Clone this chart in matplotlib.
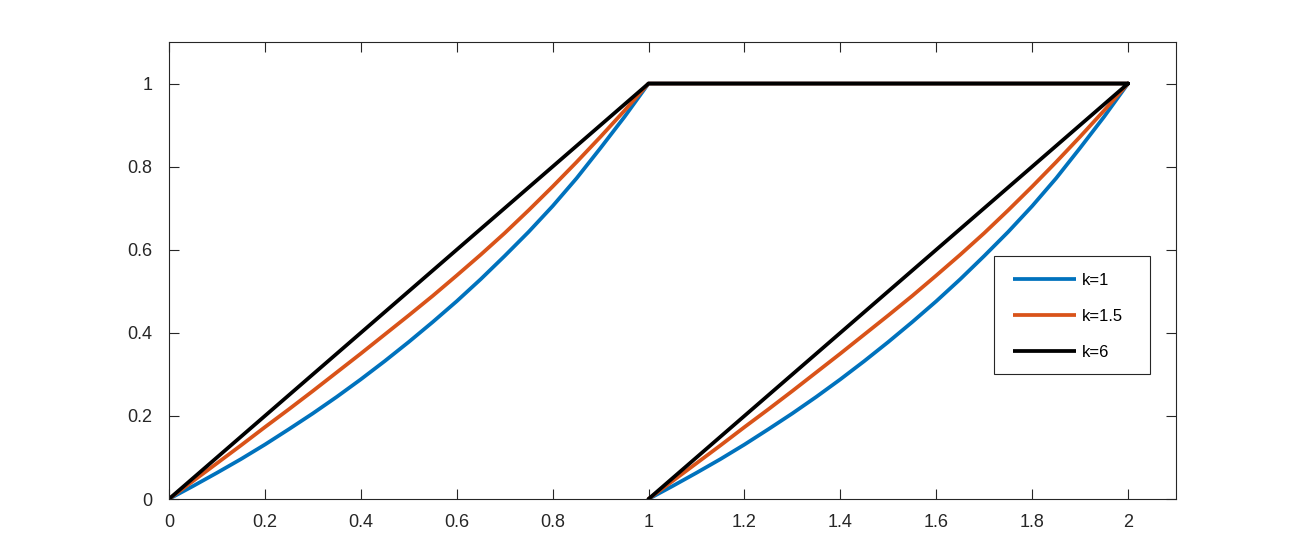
import numpy as np
import matplotlib
matplotlib.use("Agg")
import matplotlib.pyplot as plt
from matplotlib.patches import Rectangle
from matplotlib.ticker import FuncFormatter

# values (step 0.05)
x_rise = [0, 0.05, 0.1, 0.15, 0.2, 0.25, 0.3, 0.35, 0.4, 0.45, 0.5,
          0.55, 0.6, 0.65, 0.7, 0.75, 0.8, 0.85, 0.9, 0.95, 1.0]
y_k1 = [0, 0.031, 0.063, 0.096, 0.131, 0.168, 0.206, 0.246, 0.288, 0.332, 0.378,
        0.426, 0.476, 0.529, 0.585, 0.643, 0.705, 0.772, 0.845, 0.92, 1.0]
y_k15 = [0, 0.043, 0.086, 0.129, 0.173, 0.216, 0.26, 0.305, 0.35, 0.396, 0.442,
         0.489, 0.538, 0.588, 0.64, 0.695, 0.752, 0.811, 0.872, 0.935, 1.0]
y_k6 = [0, 0.05, 0.1, 0.15, 0.2, 0.25, 0.3, 0.35, 0.4, 0.45, 0.5,
        0.55, 0.6, 0.65, 0.7, 0.75, 0.8, 0.85, 0.9, 0.95, 1.0]

# second rise, 1..2 (same shape as the first one in the picture)
x_rise2 = [1.0, 1.05, 1.1, 1.15, 1.2, 1.25, 1.3, 1.35, 1.4, 1.45, 1.5,
           1.55, 1.6, 1.65, 1.7, 1.75, 1.8, 1.85, 1.9, 1.95, 2.0]
y2_k1 = [0, 0.031, 0.063, 0.096, 0.131, 0.168, 0.206, 0.246, 0.288, 0.332, 0.378,
         0.426, 0.476, 0.529, 0.585, 0.643, 0.705, 0.772, 0.845, 0.92, 1.0]
y2_k15 = [0, 0.043, 0.086, 0.129, 0.173, 0.216, 0.26, 0.305, 0.35, 0.396, 0.442,
          0.489, 0.538, 0.588, 0.64, 0.695, 0.752, 0.811, 0.872, 0.935, 1.0]
y2_k6 = [0, 0.05, 0.1, 0.15, 0.2, 0.25, 0.3, 0.35, 0.4, 0.45, 0.5,
         0.55, 0.6, 0.65, 0.7, 0.75, 0.8, 0.85, 0.9, 0.95, 1.0]

x_flat = [1.0, 2.0]
y_flat = [1.0, 1.0]

labels = ['k=1', 'k=1.5', 'k=6']
colors = ['#0072BD', '#D95319', '#000000']

x_ticks = [0, 0.2, 0.4, 0.6, 0.8, 1, 1.2, 1.4, 1.6, 1.8, 2]
y_ticks = [0, 0.2, 0.4, 0.6, 0.8, 1]

plt.rcParams['font.family'] = ['Liberation Sans', 'DejaVu Sans']

W, H = 1298, 559
fig = plt.figure(figsize=(W / 100, H / 100), dpi=100)
ax = fig.add_axes([169 / W, 60 / H, 1007 / W, 457 / H])

series = [(y_k1, y2_k1), (y_k15, y2_k15), (y_k6, y2_k6)]
for (ya, yb), lab, col in zip(series, labels, colors):
    # rise, flat top, second rise - nan in between so there is no vertical jump
    xs = list(x_rise) + list(x_flat) + [np.nan] + list(x_rise2)
    ys = list(ya) + list(y_flat) + [np.nan] + list(yb)
    ax.plot(xs, ys, color=col, linewidth=2.7, label=lab,
            solid_joinstyle='round', solid_capstyle='round')

ax.set_xlim(0, 2.1)
ax.set_ylim(0, 1.1)
ax.set_xticks(x_ticks)
ax.set_yticks(y_ticks)
fmt = FuncFormatter(lambda v, p: '{:g}'.format(v))
ax.xaxis.set_major_formatter(fmt)
ax.yaxis.set_major_formatter(fmt)

for s in ax.spines.values():
    s.set_color('#262626')
    s.set_linewidth(0.8)
ax.tick_params(axis='both', direction='in', length=7, width=0.8,
               color='#262626', labelcolor='#262626', labelsize=13,
               top=True, right=True)
ax.tick_params(axis='x', pad=10.5)
ax.tick_params(axis='y', pad=12)

# legend without its own frame; frame drawn as a box like matlab's
leg = ax.legend(loc='upper left', bbox_to_anchor=(1013 / W, 1 - 273 / H),
                bbox_transform=fig.transFigure, frameon=False, fontsize=12,
                handlelength=3.8, handletextpad=0.35, labelspacing=1.25,
                borderpad=0, borderaxespad=0)
for h in leg.get_lines():
    h.set_solid_capstyle('butt')
fig.patches.append(Rectangle((994 / W, 1 - 374 / H), 156 / W, 118 / H,
                             transform=fig.transFigure, fill=False,
                             edgecolor='#262626', linewidth=0.8))

fig.savefig('out.png', dpi=100)
